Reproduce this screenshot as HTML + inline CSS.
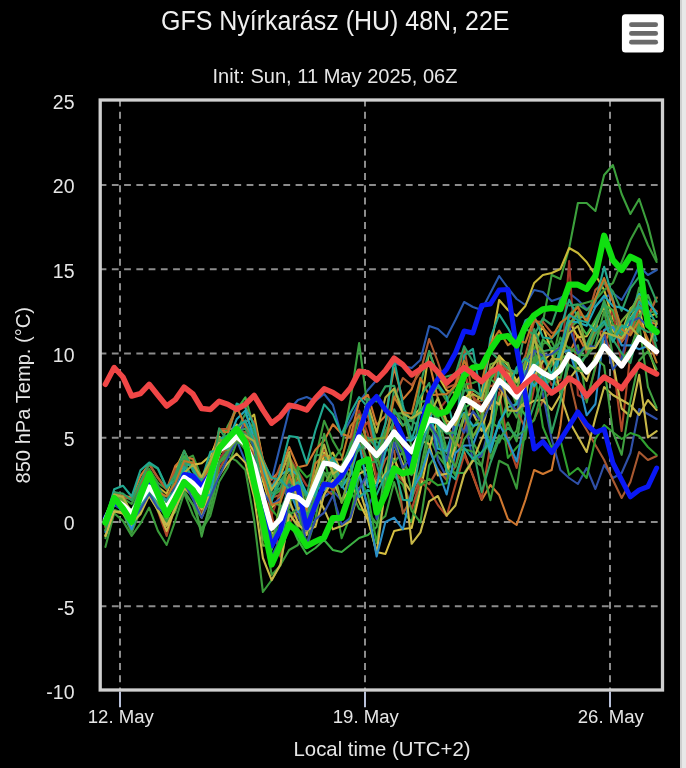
<!DOCTYPE html>
<html><head><meta charset="utf-8">
<style>
html,body{margin:0;padding:0;background:#000;width:686px;height:768px;overflow:hidden}
svg{display:block;will-change:transform}
text{font-family:"Liberation Sans",sans-serif}
</style></head><body>
<svg width="686" height="768" viewBox="0 0 686 768">
<rect x="0" y="0" width="686" height="768" fill="#000"/>
<rect x="680" y="0" width="6" height="768" fill="#e8e8e8"/><rect x="680" y="0" width="2" height="768" fill="#cfcfcf"/>

<text x="161" y="29.8" font-size="27" fill="#efefef" textLength="348.5" lengthAdjust="spacingAndGlyphs">GFS Nyírkarász (HU) 48N, 22E</text>
<text x="212.5" y="82.5" font-size="21" fill="#e6e6e6" textLength="245" lengthAdjust="spacingAndGlyphs">Init: Sun, 11 May 2025, 06Z</text>
<rect x="621.9" y="14.3" width="42" height="38.3" rx="3.5" fill="#ffffff"/>
<line x1="631.4" y1="24.7" x2="655.7" y2="24.7" stroke="#6a6a6a" stroke-width="4.7" stroke-linecap="round"/>
<line x1="631.4" y1="33.4" x2="655.7" y2="33.4" stroke="#6a6a6a" stroke-width="4.7" stroke-linecap="round"/>
<line x1="631.4" y1="42.2" x2="655.7" y2="42.2" stroke="#6a6a6a" stroke-width="4.7" stroke-linecap="round"/>
<g stroke="#8c8c8c" stroke-width="2" stroke-dasharray="6.8,5.45">
<line x1="99.6" y1="185.0" x2="661" y2="185.0"/>
<line x1="99.6" y1="269.2" x2="661" y2="269.2"/>
<line x1="99.6" y1="353.5" x2="661" y2="353.5"/>
<line x1="99.6" y1="437.8" x2="661" y2="437.8"/>
<line x1="99.6" y1="522.0" x2="661" y2="522.0"/>
<line x1="99.6" y1="606.2" x2="661" y2="606.2"/>
<line x1="120" y1="99.6" x2="120" y2="689"/>
<line x1="365" y1="99.6" x2="365" y2="689"/>
<line x1="610" y1="99.6" x2="610" y2="689"/>
</g>
<line x1="120" y1="691.5" x2="120" y2="707.2" stroke="#b8c0d8" stroke-width="2"/>
<line x1="365" y1="691.5" x2="365" y2="707.2" stroke="#b8c0d8" stroke-width="2"/>
<line x1="610" y1="691.5" x2="610" y2="707.2" stroke="#b8c0d8" stroke-width="2"/>
<text x="74.5" y="109.0" text-anchor="end" font-size="19.5" fill="#e6e6e6">25</text>
<text x="74.5" y="193.3" text-anchor="end" font-size="19.5" fill="#e6e6e6">20</text>
<text x="74.5" y="277.6" text-anchor="end" font-size="19.5" fill="#e6e6e6">15</text>
<text x="74.5" y="361.8" text-anchor="end" font-size="19.5" fill="#e6e6e6">10</text>
<text x="74.5" y="446.1" text-anchor="end" font-size="19.5" fill="#e6e6e6">5</text>
<text x="74.5" y="530.3" text-anchor="end" font-size="19.5" fill="#e6e6e6">0</text>
<text x="74.5" y="614.5" text-anchor="end" font-size="19.5" fill="#e6e6e6">-5</text>
<text x="74.5" y="698.8" text-anchor="end" font-size="19.5" fill="#e6e6e6">-10</text>
<text x="120.8" y="722.5" text-anchor="middle" font-size="18.8" fill="#e6e6e6" textLength="66" lengthAdjust="spacingAndGlyphs">12. May</text>
<text x="365.8" y="722.5" text-anchor="middle" font-size="18.8" fill="#e6e6e6" textLength="66" lengthAdjust="spacingAndGlyphs">19. May</text>
<text x="610.8" y="722.5" text-anchor="middle" font-size="18.8" fill="#e6e6e6" textLength="66" lengthAdjust="spacingAndGlyphs">26. May</text>
<text x="293.5" y="755.5" font-size="21" fill="#e6e6e6" textLength="177" lengthAdjust="spacingAndGlyphs">Local time (UTC+2)</text>
<text transform="translate(30.1,483.5) rotate(-90)" font-size="21" fill="#e6e6e6" textLength="176.5" lengthAdjust="spacingAndGlyphs">850 hPa Temp. (°C)</text>
<defs><clipPath id="pc"><rect x="101.5" y="101.5" width="559" height="587"/></clipPath></defs>
<g clip-path="url(#pc)" fill="none" stroke-linejoin="round" stroke-linecap="round">
<polyline points="105.40,538.2 114.15,510.0 122.90,512.6 131.65,532.7 140.40,510.3 149.15,489.9 157.90,505.4 166.65,517.3 175.40,502.5 184.15,490.6 192.90,504.9 201.65,529.6 210.40,510.3 219.15,470.0 227.90,455.0 236.65,438.7 245.40,443.3 254.15,488.4 262.90,509.4 271.65,532.5 280.40,550.2 289.15,511.0 297.90,528.4 306.65,546.4 315.40,505.8 324.15,495.0 332.90,472.8 341.65,502.4 350.40,490.2 359.15,508.9 367.90,512.0 376.65,523.8 385.40,516.0 394.15,482.0 402.90,511.6 411.65,522.0 420.40,480.8 429.15,435.7 437.90,455.8 446.65,467.0 455.40,433.8 464.15,383.3 472.90,406.4 481.65,408.0 490.40,458.5 499.15,435.3 507.90,442.0 516.65,430.6 525.40,380.7 534.15,350.0 542.90,322.0 551.65,275.0 560.40,279.0 569.15,248.0 577.90,203.0 586.65,203.0 595.40,211.0 604.15,175.0 612.90,165.0 621.65,194.0 630.40,214.0 639.15,199.0 647.90,225.0 656.65,260.0" stroke="#3ca03c" stroke-width="2.1"/>
<polyline points="105.40,526.3 114.15,504.7 122.90,510.2 131.65,519.1 140.40,506.0 149.15,494.9 157.90,501.7 166.65,513.4 175.40,505.1 184.15,485.8 192.90,493.4 201.65,509.6 210.40,490.4 219.15,460.0 227.90,446.4 236.65,439.9 245.40,461.6 254.15,484.8 262.90,466.5 271.65,480.0 280.40,445.0 289.15,410.0 297.90,400.0 306.65,397.0 315.40,401.0 324.15,394.0 332.90,405.0 341.65,436.0 350.40,420.0 359.15,402.0 367.90,390.0 376.65,380.0 385.40,372.0 394.15,363.0 402.90,366.0 411.65,368.0 420.40,360.0 429.15,326.0 437.90,329.0 446.65,337.0 455.40,320.0 464.15,302.0 472.90,307.0 481.65,310.0 490.40,293.0 499.15,276.0 507.90,288.0 516.65,299.0 525.40,305.0 534.15,290.0 542.90,292.0 551.65,301.0 560.40,298.0 569.15,293.0 577.90,300.0 586.65,309.0 595.40,306.0 604.15,298.0 612.90,293.0 621.65,300.0 630.40,285.0 639.15,266.0 647.90,275.0 656.65,270.0" stroke="#2a5ab0" stroke-width="2.1"/>
<polyline points="105.40,521.3 114.15,497.8 122.90,496.2 131.65,513.9 140.40,491.9 149.15,477.3 157.90,486.7 166.65,493.8 175.40,469.2 184.15,451.1 192.90,468.3 201.65,494.0 210.40,476.3 219.15,453.4 227.90,447.0 236.65,432.3 245.40,422.3 254.15,414.6 262.90,460.3 271.65,487.3 280.40,482.4 289.15,469.8 297.90,478.0 306.65,515.3 315.40,478.6 324.15,460.3 332.90,452.6 341.65,472.7 350.40,463.2 359.15,432.5 367.90,446.2 376.65,479.5 385.40,483.2 394.15,415.8 402.90,425.5 411.65,417.8 420.40,408.3 429.15,351.3 437.90,375.6 446.65,390.4 455.40,393.0 464.15,369.2 472.90,409.7 481.65,391.8 490.40,349.6 499.15,300.0 507.90,310.0 516.65,316.0 525.40,306.0 534.15,283.0 542.90,275.0 551.65,273.0 560.40,269.0 569.15,248.0 577.90,253.0 586.65,262.0 595.40,275.0 604.15,290.0 612.90,318.6 621.65,332.9 630.40,308.6 639.15,301.0 647.90,317.1 656.65,313.3" stroke="#c8b838" stroke-width="2.1"/>
<polyline points="105.40,526.8 114.15,493.9 122.90,506.9 131.65,521.5 140.40,494.4 149.15,480.4 157.90,493.2 166.65,515.8 175.40,498.3 184.15,470.2 192.90,483.9 201.65,514.3 210.40,489.4 219.15,459.0 227.90,447.0 236.65,436.6 245.40,423.3 254.15,446.7 262.90,495.2 271.65,515.7 280.40,491.7 289.15,456.7 297.90,471.1 306.65,485.6 315.40,486.0 324.15,450.6 332.90,470.5 341.65,479.2 350.40,443.0 359.15,410.5 367.90,434.1 376.65,478.3 385.40,451.5 394.15,426.6 402.90,446.0 411.65,462.2 420.40,423.6 429.15,403.0 437.90,410.9 446.65,400.2 455.40,383.3 464.15,373.0 472.90,396.1 481.65,406.3 490.40,400.0 499.15,355.6 507.90,372.5 516.65,388.1 525.40,363.7 534.15,332.6 542.90,366.9 551.65,385.0 560.40,380.0 569.15,261.0 577.90,395.0 586.65,400.0 595.40,368.2 604.15,332.2 612.90,310.2 621.65,364.6 630.40,325.1 639.15,295.1 647.90,324.3 656.65,355.0" stroke="#a03828" stroke-width="2.1"/>
<polyline points="105.40,525.8 114.15,495.6 122.90,502.2 131.65,513.9 140.40,499.9 149.15,483.7 157.90,496.7 166.65,506.7 175.40,492.3 184.15,461.7 192.90,461.8 201.65,497.6 210.40,461.3 219.15,441.0 227.90,439.9 236.65,429.1 245.40,432.6 254.15,447.1 262.90,473.5 271.65,496.4 280.40,490.4 289.15,474.8 297.90,469.9 306.65,500.8 315.40,476.4 324.15,455.4 332.90,460.6 341.65,447.8 350.40,400.0 359.15,343.0 367.90,410.0 376.65,442.3 385.40,444.2 394.15,434.7 402.90,468.7 411.65,475.1 420.40,449.3 429.15,420.1 437.90,433.5 446.65,461.4 455.40,450.6 464.15,416.8 472.90,442.5 481.65,457.0 490.40,438.6 499.15,442.5 507.90,422.5 516.65,441.3 525.40,391.3 534.15,361.7 542.90,370.8 551.65,365.8 560.40,337.6 569.15,349.4 577.90,370.0 586.65,354.1 595.40,328.6 604.15,300.2 612.90,324.2 621.65,332.8 630.40,322.4 639.15,287.6 647.90,317.0 656.65,297.5" stroke="#3aa040" stroke-width="2.1"/>
<polyline points="105.40,520.6 114.15,492.8 122.90,498.1 131.65,504.0 140.40,485.4 149.15,468.8 157.90,482.8 166.65,489.2 175.40,471.7 184.15,459.7 192.90,455.6 201.65,477.7 210.40,469.9 219.15,438.7 227.90,456.4 236.65,460.9 245.40,470.0 254.15,520.0 262.90,592.0 271.65,580.0 280.40,565.0 289.15,550.0 297.90,545.0 306.65,518.1 315.40,458.5 324.15,420.7 332.90,440.9 341.65,456.0 350.40,481.5 359.15,466.4 367.90,480.3 376.65,487.1 385.40,432.7 394.15,411.2 402.90,418.9 411.65,421.2 420.40,410.8 429.15,399.1 437.90,386.2 446.65,400.9 455.40,385.5 464.15,384.7 472.90,383.0 481.65,379.5 490.40,376.9 499.15,367.0 507.90,369.7 516.65,382.8 525.40,378.5 534.15,387.5 542.90,343.7 551.65,341.0 560.40,358.8 569.15,354.1 577.90,345.2 586.65,402.4 595.40,366.1 604.15,330.0 612.90,326.9 621.65,324.8 630.40,332.9 639.15,313.2 647.90,312.5 656.65,311.3" stroke="#3a9a3a" stroke-width="2.1"/>
<polyline points="105.40,518.2 114.15,494.5 122.90,495.6 131.65,497.5 140.40,476.0 149.15,464.2 157.90,477.7 166.65,489.4 175.40,465.7 184.15,457.1 192.90,459.0 201.65,483.3 210.40,459.2 219.15,431.5 227.90,429.5 236.65,427.9 245.40,438.8 254.15,421.3 262.90,459.2 271.65,479.3 280.40,470.3 289.15,447.0 297.90,467.3 306.65,465.2 315.40,449.8 324.15,440.5 332.90,424.3 341.65,433.7 350.40,436.9 359.15,401.3 367.90,394.8 376.65,424.7 385.40,416.1 394.15,368.0 402.90,399.4 411.65,389.2 420.40,365.7 429.15,362.0 437.90,398.5 446.65,423.8 455.40,442.0 464.15,452.0 472.90,476.0 481.65,500.0 490.40,485.0 499.15,495.0 507.90,519.0 516.65,525.0 525.40,500.0 534.15,470.0 542.90,474.0 551.65,470.0 560.40,425.9 569.15,353.1 577.90,335.4 586.65,351.9 595.40,321.3 604.15,343.2 612.90,325.8 621.65,341.9 630.40,329.0 639.15,305.6 647.90,321.8 656.65,324.1" stroke="#d07830" stroke-width="2.1"/>
<polyline points="105.40,527.1 114.15,502.0 122.90,508.3 131.65,520.0 140.40,502.1 149.15,489.8 157.90,510.9 166.65,536.0 175.40,503.8 184.15,483.4 192.90,491.8 201.65,517.7 210.40,493.8 219.15,468.8 227.90,454.5 236.65,430.3 245.40,433.7 254.15,455.7 262.90,477.0 271.65,514.5 280.40,556.6 289.15,523.0 297.90,511.2 306.65,504.3 315.40,484.4 324.15,456.3 332.90,466.9 341.65,472.0 350.40,447.4 359.15,432.0 367.90,422.0 376.65,454.2 385.40,485.6 394.15,471.9 402.90,480.8 411.65,509.4 420.40,480.9 429.15,490.0 437.90,505.0 446.65,516.0 455.40,485.0 464.15,455.0 472.90,475.0 481.65,499.0 490.40,444.5 499.15,392.4 507.90,442.8 516.65,467.9 525.40,429.2 534.15,388.2 542.90,357.0 551.65,364.7 560.40,359.4 569.15,318.7 577.90,306.0 586.65,353.5 595.40,331.5 604.15,331.5 612.90,362.2 621.65,431.0 630.40,353.8 639.15,318.4 647.90,303.0 656.65,311.6" stroke="#b04828" stroke-width="2.1"/>
<polyline points="105.40,522.4 114.15,491.8 122.90,501.8 131.65,511.6 140.40,491.2 149.15,478.7 157.90,494.2 166.65,516.1 175.40,495.9 184.15,464.5 192.90,464.9 201.65,463.3 210.40,455.6 219.15,436.7 227.90,443.5 236.65,424.5 245.40,438.9 254.15,451.2 262.90,481.0 271.65,507.6 280.40,497.6 289.15,477.4 297.90,495.2 306.65,505.5 315.40,495.1 324.15,452.8 332.90,472.6 341.65,482.3 350.40,480.2 359.15,502.1 367.90,520.0 376.65,552.0 385.40,554.0 394.15,531.0 402.90,529.0 411.65,528.0 420.40,490.0 429.15,449.0 437.90,418.4 446.65,472.1 455.40,414.0 464.15,398.7 472.90,390.0 481.65,396.0 490.40,408.9 499.15,355.8 507.90,365.2 516.65,381.0 525.40,369.5 534.15,340.7 542.90,326.9 551.65,351.6 560.40,347.9 569.15,321.1 577.90,337.2 586.65,336.2 595.40,322.1 604.15,307.5 612.90,330.7 621.65,339.6 630.40,317.7 639.15,307.3 647.90,347.5 656.65,373.6" stroke="#d8c040" stroke-width="2.1"/>
<polyline points="105.40,525.3 114.15,492.2 122.90,499.3 131.65,511.7 140.40,489.9 149.15,474.2 157.90,487.1 166.65,509.0 175.40,486.3 184.15,455.9 192.90,468.6 201.65,485.4 210.40,477.6 219.15,447.8 227.90,425.7 236.65,409.6 245.40,397.3 254.15,428.7 262.90,465.0 271.65,502.7 280.40,505.2 289.15,520.4 297.90,540.0 306.65,554.0 315.40,548.0 324.15,540.0 332.90,550.0 341.65,552.0 350.40,545.0 359.15,538.0 367.90,535.0 376.65,527.0 385.40,469.6 394.15,445.1 402.90,463.8 411.65,474.1 420.40,401.6 429.15,401.0 437.90,408.8 446.65,426.7 455.40,416.3 464.15,408.5 472.90,401.7 481.65,421.9 490.40,379.7 499.15,367.3 507.90,416.7 516.65,402.2 525.40,415.4 534.15,370.8 542.90,339.3 551.65,348.2 560.40,351.1 569.15,327.5 577.90,321.5 586.65,334.5 595.40,319.8 604.15,304.6 612.90,310.1 621.65,334.3 630.40,333.5 639.15,319.6 647.90,295.0 656.65,317.0" stroke="#3cb043" stroke-width="2.1"/>
<polyline points="105.40,523.2 114.15,497.1 122.90,505.4 131.65,510.7 140.40,499.2 149.15,485.8 157.90,493.8 166.65,507.1 175.40,484.0 184.15,470.0 192.90,482.0 201.65,503.2 210.40,479.1 219.15,464.4 227.90,450.3 236.65,438.1 245.40,437.2 254.15,485.3 262.90,522.4 271.65,556.0 280.40,538.6 289.15,504.9 297.90,516.4 306.65,534.3 315.40,507.7 324.15,496.6 332.90,490.6 341.65,500.5 350.40,480.1 359.15,475.5 367.90,508.1 376.65,486.7 385.40,438.9 394.15,437.0 402.90,454.4 411.65,466.4 420.40,425.3 429.15,409.0 437.90,460.3 446.65,477.2 455.40,443.5 464.15,415.6 472.90,460.9 481.65,455.5 490.40,423.6 499.15,362.1 507.90,369.7 516.65,371.8 525.40,361.8 534.15,350.3 542.90,393.8 551.65,439.0 560.40,470.0 569.15,478.0 577.90,484.0 586.65,468.0 595.40,489.0 604.15,465.0 612.90,478.0 621.65,473.0 630.40,453.0 639.15,409.0 647.90,414.0 656.65,419.0" stroke="#3050a8" stroke-width="2.1"/>
<polyline points="105.40,523.8 114.15,495.2 122.90,504.9 131.65,518.9 140.40,504.1 149.15,481.5 157.90,498.1 166.65,514.9 175.40,492.2 184.15,476.8 192.90,485.1 201.65,509.7 210.40,485.1 219.15,452.3 227.90,449.4 236.65,441.5 245.40,431.4 254.15,468.1 262.90,476.5 271.65,497.8 280.40,494.8 289.15,457.4 297.90,485.3 306.65,522.5 315.40,481.5 324.15,489.2 332.90,494.9 341.65,465.0 350.40,456.2 359.15,442.3 367.90,467.4 376.65,482.8 385.40,459.4 394.15,450.5 402.90,513.5 411.65,498.4 420.40,478.0 429.15,484.1 437.90,469.4 446.65,480.0 455.40,466.7 464.15,428.6 472.90,400.7 481.65,401.3 490.40,385.6 499.15,388.5 507.90,400.6 516.65,410.8 525.40,428.3 534.15,419.4 542.90,400.6 551.65,390.4 560.40,385.1 569.15,377.3 577.90,415.3 586.65,430.0 595.40,445.0 604.15,460.0 612.90,480.0 621.65,498.0 630.40,482.0 639.15,452.0 647.90,460.0 656.65,456.0" stroke="#a85830" stroke-width="2.1"/>
<polyline points="105.40,535.4 114.15,509.9 122.90,513.6 131.65,525.4 140.40,511.0 149.15,488.8 157.90,511.2 166.65,521.4 175.40,511.8 184.15,485.0 192.90,496.1 201.65,516.8 210.40,492.6 219.15,461.8 227.90,451.2 236.65,439.2 245.40,449.8 254.15,456.8 262.90,471.5 271.65,509.4 280.40,520.1 289.15,508.1 297.90,467.0 306.65,477.3 315.40,471.1 324.15,460.6 332.90,490.7 341.65,538.2 350.40,516.1 359.15,476.3 367.90,495.2 376.65,543.0 385.40,487.2 394.15,436.6 402.90,450.6 411.65,468.1 420.40,485.4 429.15,478.8 437.90,485.3 446.65,483.2 455.40,432.8 464.15,402.1 472.90,435.5 481.65,428.9 490.40,438.8 499.15,396.9 507.90,457.9 516.65,447.5 525.40,438.4 534.15,370.4 542.90,427.0 551.65,447.6 560.40,440.0 569.15,475.0 577.90,468.0 586.65,478.0 595.40,439.0 604.15,425.0 612.90,432.0 621.65,439.0 630.40,433.0 639.15,436.0 647.90,447.0 656.65,455.0" stroke="#30a030" stroke-width="2.1"/>
<polyline points="105.40,535.8 114.15,511.3 122.90,512.2 131.65,527.0 140.40,507.8 149.15,495.9 157.90,510.2 166.65,525.8 175.40,508.3 184.15,476.7 192.90,492.0 201.65,509.1 210.40,480.3 219.15,445.2 227.90,446.9 236.65,439.1 245.40,446.7 254.15,477.3 262.90,504.1 271.65,533.2 280.40,531.9 289.15,500.0 297.90,522.3 306.65,535.0 315.40,492.1 324.15,509.3 332.90,529.3 341.65,526.0 350.40,521.4 359.15,487.9 367.90,517.3 376.65,553.5 385.40,487.1 394.15,458.6 402.90,479.4 411.65,492.7 420.40,440.4 429.15,444.0 437.90,475.4 446.65,473.8 455.40,446.0 464.15,416.5 472.90,413.0 481.65,430.9 490.40,397.6 499.15,404.6 507.90,368.7 516.65,403.5 525.40,406.2 534.15,400.7 542.90,400.0 551.65,410.0 560.40,395.0 569.15,421.0 577.90,436.5 586.65,452.0 595.40,418.0 604.15,387.0 612.90,395.0 621.65,400.0 630.40,405.0 639.15,415.0 647.90,400.0 656.65,410.0" stroke="#c8b848" stroke-width="2.1"/>
<polyline points="105.40,517.4 114.15,493.0 122.90,497.5 131.65,499.0 140.40,484.6 149.15,463.6 157.90,477.9 166.65,489.4 175.40,469.1 184.15,464.9 192.90,476.9 201.65,503.6 210.40,469.6 219.15,429.2 227.90,428.7 236.65,405.6 245.40,406.9 254.15,423.7 262.90,460.3 271.65,488.2 280.40,465.0 289.15,463.6 297.90,496.0 306.65,506.8 315.40,477.9 324.15,482.3 332.90,490.0 341.65,464.8 350.40,470.5 359.15,422.4 367.90,415.1 376.65,457.9 385.40,424.0 394.15,398.2 402.90,378.0 411.65,385.0 420.40,372.0 429.15,339.0 437.90,362.0 446.65,388.0 455.40,384.1 464.15,347.7 472.90,396.8 481.65,415.2 490.40,399.0 499.15,361.5 507.90,371.5 516.65,373.0 525.40,355.4 534.15,321.6 542.90,321.8 551.65,332.9 560.40,330.8 569.15,330.2 577.90,312.2 586.65,319.8 595.40,289.9 604.15,282.2 612.90,301.0 621.65,340.8 630.40,332.2 639.15,308.0 647.90,316.9 656.65,297.8" stroke="#b05a30" stroke-width="2.1"/>
<polyline points="105.40,547.0 114.15,513.3 122.90,520.9 131.65,535.9 140.40,523.7 149.15,507.6 157.90,530.9 166.65,545.0 175.40,520.3 184.15,493.0 192.90,515.0 201.65,530.0 210.40,515.6 219.15,481.7 227.90,467.1 236.65,442.3 245.40,444.3 254.15,481.9 262.90,523.0 271.65,575.0 280.40,565.6 289.15,515.4 297.90,508.1 306.65,547.5 315.40,519.0 324.15,473.7 332.90,472.4 341.65,466.1 350.40,445.5 359.15,430.4 367.90,442.9 376.65,454.3 385.40,484.5 394.15,476.0 402.90,484.4 411.65,510.9 420.40,522.3 429.15,465.4 437.90,452.1 446.65,456.8 455.40,475.7 464.15,448.9 472.90,451.8 481.65,465.3 490.40,500.2 499.15,460.7 507.90,465.3 516.65,488.7 525.40,428.3 534.15,420.2 542.90,386.8 551.65,363.4 560.40,325.0 569.15,315.0 577.90,305.0 586.65,302.5 595.40,300.0 604.15,290.0 612.90,283.0 621.65,262.0 630.40,240.0 639.15,224.0 647.90,245.0 656.65,262.0" stroke="#3a9a3a" stroke-width="2.1"/>
<polyline points="105.40,520.5 114.15,492.2 122.90,493.6 131.65,500.3 140.40,481.4 149.15,463.7 157.90,468.8 166.65,488.2 175.40,474.5 184.15,450.6 192.90,471.2 201.65,480.2 210.40,483.6 219.15,447.3 227.90,444.7 236.65,429.5 245.40,434.3 254.15,439.8 262.90,473.1 271.65,500.5 280.40,480.7 289.15,469.0 297.90,489.6 306.65,496.1 315.40,455.3 324.15,454.7 332.90,471.3 341.65,484.2 350.40,475.6 359.15,435.4 367.90,437.8 376.65,447.9 385.40,444.3 394.15,389.3 402.90,408.0 411.65,420.5 420.40,427.5 429.15,394.9 437.90,428.6 446.65,453.1 455.40,421.3 464.15,390.6 472.90,389.7 481.65,396.4 490.40,369.3 499.15,367.0 507.90,388.7 516.65,387.7 525.40,365.4 534.15,329.0 542.90,351.4 551.65,349.3 560.40,342.5 569.15,354.4 577.90,363.4 586.65,355.9 595.40,334.4 604.15,324.0 612.90,327.2 621.65,335.2 630.40,312.5 639.15,306.1 647.90,318.6 656.65,348.4" stroke="#30a060" stroke-width="2.1"/>
<polyline points="105.40,530.4 114.15,504.6 122.90,507.3 131.65,520.3 140.40,506.3 149.15,486.3 157.90,499.6 166.65,512.6 175.40,507.2 184.15,492.5 192.90,504.7 201.65,517.4 210.40,499.2 219.15,462.9 227.90,455.7 236.65,438.3 245.40,439.5 254.15,467.1 262.90,501.2 271.65,535.9 280.40,532.8 289.15,474.4 297.90,510.8 306.65,530.5 315.40,494.4 324.15,472.3 332.90,487.8 341.65,476.0 350.40,451.8 359.15,435.7 367.90,463.0 376.65,461.5 385.40,444.8 394.15,462.2 402.90,451.9 411.65,492.1 420.40,470.2 429.15,426.7 437.90,440.0 446.65,470.3 455.40,472.9 464.15,473.0 472.90,459.7 481.65,466.2 490.40,421.4 499.15,428.3 507.90,400.2 516.65,417.6 525.40,383.6 534.15,348.2 542.90,384.5 551.65,373.9 560.40,378.0 569.15,347.2 577.90,354.4 586.65,355.8 595.40,345.2 604.15,310.8 612.90,354.9 621.65,359.8 630.40,349.4 639.15,323.6 647.90,386.9 656.65,407.8" stroke="#40a040" stroke-width="2.1"/>
<polyline points="105.40,520.5 114.15,489.2 122.90,485.7 131.65,496.5 140.40,470.4 149.15,462.5 157.90,468.2 166.65,487.1 175.40,479.6 184.15,462.4 192.90,467.7 201.65,486.3 210.40,469.1 219.15,439.0 227.90,435.2 236.65,403.5 245.40,407.9 254.15,425.0 262.90,472.7 271.65,501.3 280.40,470.5 289.15,436.1 297.90,437.3 306.65,463.4 315.40,430.5 324.15,404.4 332.90,414.2 341.65,434.3 350.40,413.0 359.15,397.1 367.90,407.3 376.65,451.2 385.40,423.6 394.15,359.3 402.90,405.0 411.65,439.7 420.40,412.5 429.15,397.7 437.90,384.5 446.65,396.3 455.40,434.8 464.15,355.1 472.90,348.9 481.65,400.3 490.40,338.1 499.15,314.4 507.90,328.1 516.65,344.2 525.40,320.5 534.15,315.6 542.90,337.5 551.65,338.6 560.40,328.7 569.15,299.7 577.90,317.8 586.65,316.4 595.40,302.0 604.15,266.8 612.90,299.1 621.65,330.9 630.40,318.7 639.15,307.4 647.90,309.8 656.65,323.8" stroke="#20a890" stroke-width="2.1"/>
<polyline points="105.40,532.1 114.15,503.3 122.90,510.7 131.65,529.3 140.40,506.6 149.15,486.8 157.90,504.8 166.65,500.1 175.40,493.1 184.15,472.8 192.90,486.9 201.65,499.4 210.40,488.4 219.15,451.5 227.90,445.5 236.65,430.8 245.40,446.2 254.15,468.6 262.90,521.8 271.65,561.7 280.40,546.6 289.15,489.4 297.90,511.8 306.65,514.6 315.40,486.3 324.15,490.0 332.90,480.0 341.65,485.4 350.40,497.8 359.15,473.8 367.90,507.8 376.65,556.5 385.40,522.0 394.15,517.7 402.90,529.3 411.65,491.1 420.40,475.4 429.15,449.3 437.90,469.8 446.65,494.5 455.40,452.9 464.15,445.6 472.90,445.2 481.65,421.8 490.40,446.8 499.15,423.8 507.90,440.6 516.65,461.5 525.40,417.0 534.15,370.8 542.90,389.9 551.65,376.0 560.40,353.2 569.15,350.1 577.90,377.9 586.65,415.3 595.40,404.0 604.15,330.0 612.90,326.8 621.65,345.4 630.40,345.3 639.15,349.2 647.90,346.0 656.65,350.4" stroke="#2a8fc8" stroke-width="2.1"/>
<polyline points="105.40,522.1 114.15,493.8 122.90,500.2 131.65,511.3 140.40,487.0 149.15,473.7 157.90,485.7 166.65,502.1 175.40,476.4 184.15,459.5 192.90,482.6 201.65,504.0 210.40,492.0 219.15,445.5 227.90,436.8 236.65,431.0 245.40,413.6 254.15,433.5 262.90,460.3 271.65,493.3 280.40,488.0 289.15,462.6 297.90,473.8 306.65,513.4 315.40,474.7 324.15,462.2 332.90,460.8 341.65,471.6 350.40,443.8 359.15,430.1 367.90,399.1 376.65,401.4 385.40,386.4 394.15,385.8 402.90,413.2 411.65,430.1 420.40,383.8 429.15,351.1 437.90,378.4 446.65,376.4 455.40,374.1 464.15,346.2 472.90,361.4 481.65,367.8 490.40,351.5 499.15,359.9 507.90,368.4 516.65,373.3 525.40,328.1 534.15,335.3 542.90,318.3 551.65,324.8 560.40,299.6 569.15,305.5 577.90,304.4 586.65,310.2 595.40,300.4 604.15,281.4 612.90,291.4 621.65,310.9 630.40,288.3 639.15,276.6 647.90,280.8 656.65,301.6" stroke="#30a060" stroke-width="2.1"/>
<polyline points="105.40,536.0 114.15,511.5 122.90,513.5 131.65,523.0 140.40,514.2 149.15,495.5 157.90,509.5 166.65,531.0 175.40,508.1 184.15,488.3 192.90,496.2 201.65,517.3 210.40,490.9 219.15,475.6 227.90,462.7 236.65,453.6 245.40,462.9 254.15,497.2 262.90,558.0 271.65,580.2 280.40,564.5 289.15,514.2 297.90,525.3 306.65,530.1 315.40,526.8 324.15,494.7 332.90,480.1 341.65,500.4 350.40,489.4 359.15,473.8 367.90,469.3 376.65,484.4 385.40,473.5 394.15,442.7 402.90,464.4 411.65,543.8 420.40,532.4 429.15,501.4 437.90,496.0 446.65,515.6 455.40,505.5 464.15,474.4 472.90,460.6 481.65,439.1 490.40,421.8 499.15,369.2 507.90,377.8 516.65,381.9 525.40,375.0 534.15,376.6 542.90,361.4 551.65,352.6 560.40,393.8 569.15,379.3 577.90,367.7 586.65,380.8 595.40,355.4 604.15,347.1 612.90,361.6 621.65,408.6 630.40,416.4 639.15,374.9 647.90,437.4 656.65,431.2" stroke="#c8b848" stroke-width="2.1"/>
<polyline points="105.40,530.0 114.15,495.1 122.90,504.9 131.65,519.6 140.40,502.2 149.15,483.0 157.90,496.1 166.65,520.7 175.40,495.8 184.15,474.5 192.90,493.4 201.65,536.6 210.40,502.1 219.15,462.8 227.90,451.7 236.65,439.3 245.40,446.1 254.15,484.0 262.90,538.4 271.65,549.9 280.40,522.3 289.15,481.6 297.90,488.8 306.65,494.3 315.40,480.9 324.15,433.7 332.90,462.4 341.65,480.1 350.40,451.2 359.15,414.5 367.90,443.6 376.65,459.0 385.40,431.6 394.15,413.8 402.90,413.1 411.65,447.0 420.40,448.4 429.15,413.7 437.90,415.3 446.65,449.8 455.40,467.0 464.15,439.3 472.90,427.7 481.65,415.1 490.40,379.0 499.15,386.4 507.90,383.6 516.65,404.6 525.40,393.1 534.15,357.0 542.90,388.8 551.65,377.0 560.40,392.5 569.15,364.5 577.90,370.8 586.65,371.4 595.40,358.0 604.15,365.8 612.90,432.1 621.65,454.8 630.40,401.1 639.15,360.4 647.90,351.3 656.65,369.1" stroke="#40a040" stroke-width="2.1"/>
<polyline points="105.40,519.3 114.15,500.3 122.90,507.0 131.65,514.3 140.40,504.1 149.15,486.8 157.90,505.0 166.65,512.6 175.40,503.9 184.15,469.2 192.90,482.1 201.65,497.3 210.40,494.6 219.15,450.9 227.90,440.8 236.65,419.3 245.40,410.5 254.15,439.8 262.90,469.7 271.65,487.4 280.40,475.1 289.15,469.0 297.90,474.8 306.65,493.4 315.40,493.3 324.15,465.8 332.90,457.6 341.65,487.3 350.40,475.1 359.15,444.0 367.90,487.0 376.65,485.5 385.40,451.7 394.15,430.2 402.90,439.4 411.65,440.6 420.40,431.3 429.15,407.4 437.90,448.8 446.65,451.0 455.40,423.9 464.15,412.7 472.90,425.9 481.65,423.3 490.40,452.3 499.15,421.8 507.90,407.3 516.65,404.1 525.40,370.9 534.15,386.1 542.90,375.0 551.65,393.9 560.40,351.4 569.15,321.1 577.90,322.3 586.65,325.8 595.40,307.0 604.15,295.7 612.90,306.1 621.65,307.6 630.40,312.2 639.15,293.8 647.90,301.3 656.65,313.8" stroke="#20a8b8" stroke-width="2.1"/>
<polyline points="105.40,524.0 114.15,504.3 122.90,510.9 131.65,520.7 140.40,509.6 149.15,493.7 157.90,508.2 166.65,514.5 175.40,500.0 184.15,483.2 192.90,499.0 201.65,517.9 210.40,496.6 219.15,476.2 227.90,457.3 236.65,440.3 245.40,420.2 254.15,448.1 262.90,491.6 271.65,504.7 280.40,498.9 289.15,484.4 297.90,499.2 306.65,544.5 315.40,519.3 324.15,512.6 332.90,495.4 341.65,524.7 350.40,517.8 359.15,488.8 367.90,473.1 376.65,518.9 385.40,495.0 394.15,442.7 402.90,467.7 411.65,458.0 420.40,446.9 429.15,423.3 437.90,437.7 446.65,461.0 455.40,419.4 464.15,432.7 472.90,411.2 481.65,421.9 490.40,404.6 499.15,384.8 507.90,398.0 516.65,412.5 525.40,375.0 534.15,350.4 542.90,355.8 551.65,354.3 560.40,347.2 569.15,325.7 577.90,353.4 586.65,344.9 595.40,347.2 604.15,333.9 612.90,369.4 621.65,358.3 630.40,321.5 639.15,318.1 647.90,326.5 656.65,327.1" stroke="#3050a8" stroke-width="2.1"/>
<polyline points="105.40,524.4 114.15,494.4 122.90,499.7 131.65,511.0 140.40,496.6 149.15,477.0 157.90,503.0 166.65,515.5 175.40,493.2 184.15,475.5 192.90,488.9 201.65,497.5 210.40,460.1 219.15,438.5 227.90,450.0 236.65,440.1 245.40,442.6 254.15,467.9 262.90,545.6 271.65,545.1 280.40,501.9 289.15,458.0 297.90,475.4 306.65,511.3 315.40,510.8 324.15,485.4 332.90,469.0 341.65,503.0 350.40,471.8 359.15,435.4 367.90,440.8 376.65,438.6 385.40,437.6 394.15,421.2 402.90,436.3 411.65,454.2 420.40,430.8 429.15,395.3 437.90,423.6 446.65,428.6 455.40,445.9 464.15,414.1 472.90,436.9 481.65,420.3 490.40,364.4 499.15,360.6 507.90,362.9 516.65,389.9 525.40,361.5 534.15,341.0 542.90,351.5 551.65,375.7 560.40,365.2 569.15,324.9 577.90,312.0 586.65,349.9 595.40,327.5 604.15,303.8 612.90,336.8 621.65,321.0 630.40,310.6 639.15,296.0 647.90,319.6 656.65,321.4" stroke="#70a838" stroke-width="2.1"/>
<polyline points="105.40,519.9 114.15,496.8 122.90,505.3 131.65,511.7 140.40,498.6 149.15,473.8 157.90,492.0 166.65,496.5 175.40,482.9 184.15,460.9 192.90,463.0 201.65,480.7 210.40,467.3 219.15,431.6 227.90,432.3 236.65,406.6 245.40,426.3 254.15,438.6 262.90,475.4 271.65,505.0 280.40,501.8 289.15,475.0 297.90,496.5 306.65,509.7 315.40,463.4 324.15,454.9 332.90,459.7 341.65,459.4 350.40,426.1 359.15,415.8 367.90,444.7 376.65,452.3 385.40,444.3 394.15,397.0 402.90,412.2 411.65,413.7 420.40,377.9 429.15,395.4 437.90,394.5 446.65,394.1 455.40,385.8 464.15,360.8 472.90,377.5 481.65,382.5 490.40,344.1 499.15,330.6 507.90,345.1 516.65,339.8 525.40,342.7 534.15,318.5 542.90,327.9 551.65,337.8 560.40,322.6 569.15,316.4 577.90,306.8 586.65,322.4 595.40,298.1 604.15,278.0 612.90,301.1 621.65,329.1 630.40,335.5 639.15,320.2 647.90,339.3 656.65,362.5" stroke="#c07828" stroke-width="2.1"/>
<polyline points="105.40,523.3 114.15,496.3 122.90,504.0 131.65,520.3 140.40,501.7 149.15,482.0 157.90,493.5 166.65,508.8 175.40,496.2 184.15,475.1 192.90,493.9 201.65,504.4 210.40,483.2 219.15,428.2 227.90,442.3 236.65,431.9 245.40,428.5 254.15,443.0 262.90,495.2 271.65,549.2 280.40,509.9 289.15,491.0 297.90,488.4 306.65,517.8 315.40,497.5 324.15,463.9 332.90,464.9 341.65,485.6 350.40,460.6 359.15,449.6 367.90,443.1 376.65,463.5 385.40,493.8 394.15,409.2 402.90,425.5 411.65,419.1 420.40,396.8 429.15,383.0 437.90,425.3 446.65,433.6 455.40,432.2 464.15,402.5 472.90,446.2 481.65,492.1 490.40,462.8 499.15,439.4 507.90,427.8 516.65,436.2 525.40,430.0 534.15,404.9 542.90,377.4 551.65,432.9 560.40,401.1 569.15,353.5 577.90,358.1 586.65,344.5 595.40,325.1 604.15,302.6 612.90,339.3 621.65,353.2 630.40,363.0 639.15,327.0 647.90,332.0 656.65,332.3" stroke="#30a060" stroke-width="2.1"/>
<polyline points="105.40,521.2 114.15,501.4 122.90,508.3 131.65,518.0 140.40,505.0 149.15,491.2 157.90,496.4 166.65,499.9 175.40,490.8 184.15,466.6 192.90,476.0 201.65,479.8 210.40,451.9 219.15,450.2 227.90,448.2 236.65,426.9 245.40,420.9 254.15,441.7 262.90,461.4 271.65,478.0 280.40,479.8 289.15,489.0 297.90,482.2 306.65,494.7 315.40,495.8 324.15,466.2 332.90,458.4 341.65,472.8 350.40,464.7 359.15,497.3 367.90,489.9 376.65,494.7 385.40,474.8 394.15,466.9 402.90,499.7 411.65,500.6 420.40,451.1 429.15,422.7 437.90,422.9 446.65,471.5 455.40,479.3 464.15,447.9 472.90,459.1 481.65,452.2 490.40,441.6 499.15,367.3 507.90,390.0 516.65,367.5 525.40,358.3 534.15,366.7 542.90,357.3 551.65,374.7 560.40,349.3 569.15,314.9 577.90,320.1 586.65,322.3 595.40,331.1 604.15,321.0 612.90,341.9 621.65,326.0 630.40,327.5 639.15,301.6 647.90,312.5 656.65,340.7" stroke="#20a890" stroke-width="2.1"/>
<polyline points="105.40,519.5 114.15,494.5 122.90,496.9 131.65,513.8 140.40,491.1 149.15,485.3 157.90,494.0 166.65,517.5 175.40,496.5 184.15,473.0 192.90,464.7 201.65,477.1 210.40,460.7 219.15,442.7 227.90,445.7 236.65,433.9 245.40,435.6 254.15,441.1 262.90,463.1 271.65,490.2 280.40,476.3 289.15,452.1 297.90,509.5 306.65,501.5 315.40,474.6 324.15,444.6 332.90,474.0 341.65,467.9 350.40,455.2 359.15,427.2 367.90,403.8 376.65,432.6 385.40,397.6 394.15,388.5 402.90,413.6 411.65,418.4 420.40,412.3 429.15,415.7 437.90,398.0 446.65,420.8 455.40,425.1 464.15,401.9 472.90,394.0 481.65,398.9 490.40,369.9 499.15,356.1 507.90,410.4 516.65,411.0 525.40,402.1 534.15,335.0 542.90,375.1 551.65,358.9 560.40,359.3 569.15,333.1 577.90,326.0 586.65,348.8 595.40,347.9 604.15,332.5 612.90,335.3 621.65,338.4 630.40,326.7 639.15,336.4 647.90,348.7 656.65,322.9" stroke="#b0b040" stroke-width="2.1"/>
<polyline points="105.40,518.0 114.15,502.0 122.90,508.0 131.65,518.0 140.40,500.0 149.15,480.0 157.90,495.0 166.65,512.0 175.40,497.0 184.15,474.4 192.90,476.0 201.65,486.0 210.40,474.0 219.15,450.0 227.90,441.0 236.65,433.0 245.40,443.0 254.15,475.0 262.90,510.0 271.65,546.0 280.40,530.0 289.15,491.0 297.90,487.0 306.65,528.0 315.40,505.0 324.15,484.0 332.90,485.5 341.65,476.0 350.40,460.7 359.15,432.0 367.90,406.0 376.65,396.5 385.40,410.0 394.15,418.0 402.90,437.0 411.65,468.0 420.40,429.0 429.15,395.0 437.90,379.0 446.65,369.0 455.40,353.0 464.15,331.0 472.90,333.0 481.65,305.4 490.40,304.0 499.15,290.0 507.90,289.4 516.65,349.0 525.40,396.0 534.15,449.0 542.90,441.6 551.65,452.5 560.40,440.0 569.15,426.0 577.90,411.9 586.65,424.4 595.40,432.3 604.15,429.0 612.90,463.0 621.65,480.0 630.40,496.8 639.15,490.0 647.90,486.6 656.65,468.0" stroke="#0a18f5" stroke-width="5"/>
<polyline points="105.40,520.0 114.15,500.0 122.90,505.0 131.65,513.0 140.40,500.0 149.15,487.0 157.90,497.4 166.65,508.0 175.40,494.0 184.15,477.5 192.90,483.5 201.65,492.5 210.40,475.0 219.15,450.0 227.90,445.0 236.65,436.3 245.40,444.0 254.15,465.0 262.90,497.0 271.65,528.3 280.40,519.0 289.15,495.0 297.90,497.5 306.65,505.0 315.40,484.0 324.15,463.0 332.90,464.6 341.65,470.0 350.40,455.5 359.15,437.0 367.90,446.0 376.65,455.4 385.40,445.0 394.15,432.0 402.90,442.4 411.65,451.5 420.40,434.6 429.15,419.0 437.90,421.6 446.65,429.8 455.40,418.0 464.15,398.6 472.90,403.8 481.65,409.7 490.40,396.0 499.15,380.4 507.90,388.0 516.65,397.0 525.40,382.2 534.15,366.6 542.90,372.8 551.65,377.5 560.40,370.0 569.15,354.6 577.90,360.0 586.65,372.0 595.40,362.0 604.15,346.0 612.90,356.0 621.65,366.0 630.40,353.0 639.15,337.5 647.90,344.5 656.65,351.6" stroke="#ffffff" stroke-width="5.3"/>
<polyline points="105.40,522.6 114.15,498.0 122.90,508.5 131.65,522.0 140.40,496.0 149.15,474.0 157.90,494.0 166.65,515.0 175.40,499.0 184.15,482.0 192.90,490.0 201.65,505.0 210.40,475.0 219.15,448.5 227.90,438.5 236.65,429.0 245.40,442.0 254.15,483.0 262.90,521.0 271.65,564.5 280.40,545.0 289.15,524.5 297.90,532.0 306.65,546.0 315.40,541.5 324.15,537.5 332.90,518.0 341.65,518.0 350.40,492.0 359.15,463.0 367.90,459.4 376.65,512.5 385.40,494.5 394.15,468.4 402.90,473.6 411.65,471.0 420.40,434.6 429.15,406.5 437.90,414.0 446.65,411.5 455.40,397.0 464.15,376.0 472.90,367.6 481.65,366.5 490.40,350.0 499.15,337.3 507.90,336.0 516.65,345.5 525.40,326.8 534.15,315.2 542.90,309.3 551.65,308.0 560.40,309.2 569.15,284.7 577.90,284.7 586.65,289.0 595.40,276.0 604.15,235.7 612.90,260.2 621.65,269.9 630.40,256.7 639.15,261.0 647.90,325.0 656.65,332.0" stroke="#10e010" stroke-width="6.2"/>
<polyline points="105.40,384.3 114.15,367.5 122.90,377.0 131.65,396.0 140.40,393.7 149.15,384.3 157.90,395.2 166.65,406.0 175.40,399.6 184.15,387.2 192.90,394.0 201.65,408.6 210.40,409.4 219.15,401.3 227.90,404.3 236.65,409.4 245.40,404.3 254.15,395.5 262.90,410.0 271.65,423.2 280.40,416.3 289.15,405.3 297.90,407.0 306.65,410.0 315.40,398.3 324.15,388.8 332.90,392.5 341.65,398.3 350.40,388.0 359.15,371.3 367.90,372.8 376.65,380.0 385.40,370.6 394.15,358.2 402.90,364.8 411.65,375.0 420.40,369.2 429.15,363.3 437.90,372.0 446.65,383.0 455.40,375.0 464.15,367.5 472.90,373.9 481.65,381.7 490.40,372.6 499.15,367.3 507.90,378.0 516.65,391.6 525.40,383.8 534.15,376.7 542.90,383.8 551.65,393.0 560.40,386.9 569.15,378.0 577.90,383.5 586.65,396.0 595.40,386.0 604.15,377.0 612.90,382.0 621.65,388.5 630.40,376.0 639.15,364.3 647.90,369.5 656.65,374.0" stroke="#f04646" stroke-width="5.5"/>
</g>
<rect x="100.2" y="100" width="562.3" height="590" fill="none" stroke="#d0d0d0" stroke-width="3.3"/>
</svg></body></html>
